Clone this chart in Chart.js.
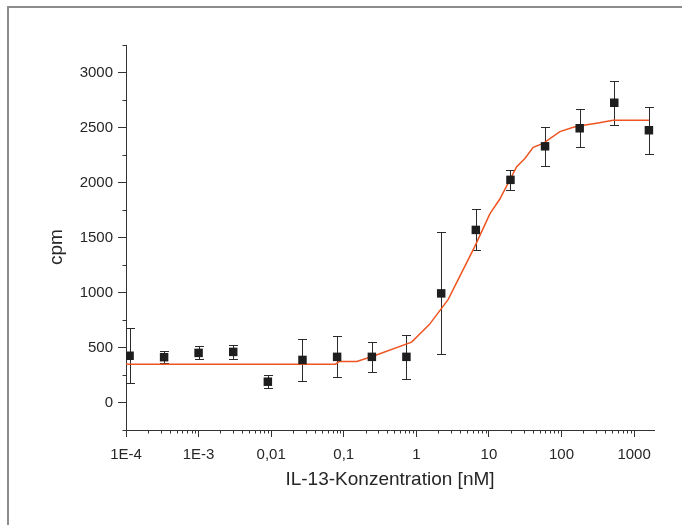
<!DOCTYPE html>
<html>
<head>
<meta charset="utf-8">
<title>IL-13 Konzentration / cpm</title>
<script src="https://cdn.jsdelivr.net/npm/chart.js@4.4.1/dist/chart.umd.min.js"></script>
<style>
  body { margin: 0; background: #fff; overflow: hidden; }
  #wrap { position: relative; width: 682px; height: 525px; overflow: hidden; }
  #frame {
    position: absolute; left: 7px; top: 6px; right: -10px; bottom: -10px;
    border-top: 2px solid #8c8c8c; border-left: 2px solid #8c8c8c;
    pointer-events: none;
  }
</style>
</head>
<body>
<div id="wrap">
  <canvas id="doseChart" width="682" height="525"></canvas>
  <div id="frame"></div>
</div>
<script>
// measured points (1:3 dilution series)
const concentrations = [0.000112, 0.000335, 0.001, 0.003, 0.009, 0.027, 0.081, 0.244, 0.73, 2.2, 6.6, 19.8, 59.3, 178, 533, 1600];
const cpmMean = [425, 412, 451, 460, 189, 387, 415, 415, 415, 992, 1569, 2024, 2329, 2493, 2725, 2475];
const cpmError = [250, 57, 60, 60, 60, 190, 186, 138, 200, 555, 187, 90, 176, 174, 200, 213];

// fitted curve
const fitX = [0.0001, 0.077, 0.086, 0.151, 0.247, 0.86, 1.51, 2.75, 3.22, 6.4, 10.3, 14.2, 24.1, 31.3, 40.7, 56, 95, 145, 222, 304, 515, 1600];
const fitY = [348, 348, 372, 372, 418, 549, 708, 937, 1028, 1419, 1715, 1852, 2143, 2219, 2320, 2356, 2463, 2503, 2524, 2539, 2565, 2565];

// axis ticks
const xTickValues = [0.0001, 0.001, 0.01, 0.1, 1, 10, 100, 1000];
const xTickLabels = ['1E-4', '1E-3', '0,01', '0,1', '1', '10', '100', '1000'];
const yTickValues = [0, 500, 1000, 1500, 2000, 2500, 3000];
const yMinorTicks = [-250, 250, 750, 1250, 1750, 2250, 2750, 3250];

const axisColor = '#333';
const textColor = '#262626';
const fontFamily = "'Liberation Sans', Arial, sans-serif";

// error bars, drawn under the squares
const errorBarPlugin = {
    id: 'errorBars',
    beforeDatasetsDraw(chart) {
        const { ctx, scales: { x, y } } = chart;
        ctx.save();
        ctx.strokeStyle = '#2b2b2b';
        ctx.lineWidth = 1;
        ctx.beginPath();
        concentrations.forEach((c, i) => {
            const px = Math.round(x.getPixelForValue(c)) + 0.5;
            const top = Math.round(y.getPixelForValue(cpmMean[i] + cpmError[i])) + 0.5;
            const bottom = Math.round(y.getPixelForValue(cpmMean[i] - cpmError[i])) + 0.5;
            ctx.moveTo(px, top);
            ctx.lineTo(px, bottom);
            ctx.moveTo(px - 4.5, top);
            ctx.lineTo(px + 4.5, top);
            ctx.moveTo(px - 4.5, bottom);
            ctx.lineTo(px + 4.5, bottom);
        });
        ctx.stroke();
        ctx.restore();
    }
};

// short minor ticks on both axes + rotated y title
const minorTickPlugin = {
    id: 'minorTicks',
    afterDraw(chart) {
        const { ctx, chartArea, scales: { x, y } } = chart;
        ctx.save();
        ctx.strokeStyle = axisColor;
        ctx.lineWidth = 1;
        ctx.beginPath();
        for (let e = -4; e <= 3; e++) {
            for (let k = 2; k <= 9; k++) {
                const v = k * Math.pow(10, e);
                if (v > x.max) continue;
                const px = Math.round(x.getPixelForValue(v)) + 0.5;
                ctx.moveTo(px, chartArea.bottom);
                ctx.lineTo(px, chartArea.bottom + 3.5);
            }
        }
        yMinorTicks.forEach(v => {
            const py = Math.round(y.getPixelForValue(v)) + 0.5;
            ctx.moveTo(chartArea.left, py);
            ctx.lineTo(chartArea.left - 3.5, py);
        });
        ctx.stroke();

        ctx.fillStyle = textColor;
        ctx.font = '19px ' + fontFamily;
        ctx.textAlign = 'center';
        ctx.textBaseline = 'middle';
        ctx.translate(57, 247);
        ctx.rotate(-Math.PI / 2);
        ctx.fillText('cpm', 0, 0);
        ctx.restore();
    }
};

const ctx = document.getElementById('doseChart').getContext('2d');
new Chart(ctx, {
    data: {
        datasets: [{
            type: 'scatter',
            label: 'cpm',
            data: concentrations.map((c, i) => ({ x: c, y: cpmMean[i] })),
            pointStyle: 'rect',
            pointRadius: 6,
            pointHoverRadius: 6,
            backgroundColor: '#1e1e1e',
            borderColor: '#1e1e1e',
            borderWidth: 0
        }, {
            type: 'line',
            label: 'Fit',
            data: fitX.map((c, i) => ({ x: c, y: fitY[i] })),
            borderColor: '#ee5420',
            borderWidth: 1.5,
            pointRadius: 0,
            tension: 0,
            fill: false
        }]
    },
    options: {
        responsive: false,
        animation: false,
        layout: { padding: { top: 45, right: 28, left: 0, bottom: 0 } },
        plugins: {
            legend: { display: false },
            tooltip: { enabled: false }
        },
        scales: {
            x: {
                type: 'logarithmic',
                position: 'bottom',
                min: 0.0001,
                max: 1880,
                bounds: 'data',
                afterBuildTicks: scale => {
                    scale.ticks = xTickValues.map(v => ({ value: v }));
                },
                afterFit: scale => { scale.height = 95; },
                ticks: {
                    autoSkip: false,
                    maxRotation: 0,
                    padding: 9,
                    color: textColor,
                    font: { family: fontFamily, size: 15 },
                    callback: (value, index) => xTickLabels[index]
                },
                grid: {
                    drawOnChartArea: false,
                    drawTicks: true,
                    tickLength: 7,
                    tickColor: axisColor
                },
                border: { display: true, color: axisColor, width: 1 },
                title: {
                    display: true,
                    text: 'IL-13-Konzentration [nM]',
                    color: textColor,
                    font: { family: fontFamily, size: 19 },
                    padding: { top: 0, bottom: 34 }
                }
            },
            y: {
                type: 'linear',
                min: -250,
                max: 3250,
                afterBuildTicks: scale => {
                    scale.ticks = yTickValues.map(v => ({ value: v }));
                },
                afterFit: scale => { scale.width = 126; },
                ticks: {
                    padding: 5,
                    color: textColor,
                    font: { family: fontFamily, size: 15 },
                    callback: value => String(value)
                },
                grid: {
                    drawOnChartArea: false,
                    drawTicks: true,
                    tickLength: 8,
                    tickColor: axisColor
                },
                border: { display: true, color: axisColor, width: 1 }
            }
        }
    },
    plugins: [errorBarPlugin, minorTickPlugin]
});
</script>
</body>
</html>
